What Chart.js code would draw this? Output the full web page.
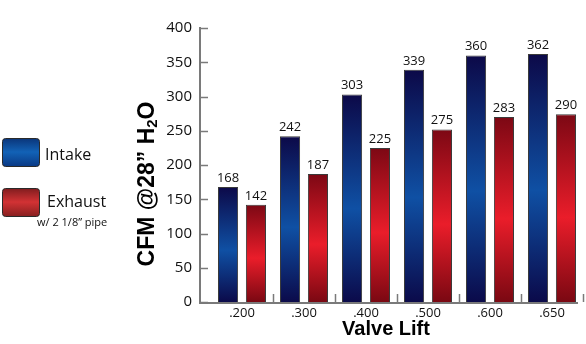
<!DOCTYPE html>
<html>
<head>
<meta charset="utf-8">
<script src="https://cdn.jsdelivr.net/npm/chart.js@4/dist/chart.umd.min.js"></script>
<style>
  html, body { margin: 0; padding: 0; background: #fff; }
  #wrap { width: 586px; height: 344px; position: relative; }
</style>
</head>
<body>
<div id="wrap"><canvas id="chart" width="586" height="344"></canvas></div>
<script>
// values
const lifts = ['.200', '.300', '.400', '.500', '.600', '.650'];
const intake = [168, 242, 303, 339, 360, 362];
// exhaust bars as drawn, and the numbers printed above them
const exhaust = [142, 187, 225, 252, 270, 274];
const exhaustLabels = [142, 187, 225, 275, 283, 290];
const yTicks = [0, 50, 100, 150, 200, 250, 300, 350, 400];

const blueStops = ['#0c0948', '#0f50a4', '#0b0a4a'];
const redStops = ['#7c0814', '#ea1d2a', '#7a0812'];

function barGradient(ctx, stops) {
  const chart = ctx.chart;
  if (!chart.chartArea || ctx.type !== 'data') return stops[1];
  const y = chart.scales.y;
  const top = y.getPixelForValue(ctx.raw);
  const bottom = y.getPixelForValue(0);
  const g = chart.ctx.createLinearGradient(0, top, 0, bottom);
  g.addColorStop(0, stops[0]);
  g.addColorStop(0.55, stops[1]);
  g.addColorStop(1, stops[2]);
  return g;
}

// axes lines, inside ticks, value labels, titles, legend
const decor = {
  id: 'decor',
  afterDatasetsDraw(chart) {
    const c = chart.ctx;
    const xs = chart.scales.x, ys = chart.scales.y;
    const base = ys.getPixelForValue(0);
    const axisX = chart.chartArea.left - 11;
    c.save();
    c.strokeStyle = '#7a7a7a';
    c.lineWidth = 2;
    c.beginPath();
    c.moveTo(axisX, ys.getPixelForValue(400) - 1);
    c.lineTo(axisX, base + 1);
    c.lineTo(chart.chartArea.right - 5, base + 1);
    c.stroke();
    // y ticks inside
    c.lineWidth = 1.5;
    yTicks.forEach(v => {
      const py = Math.round(ys.getPixelForValue(v)) + 0.5;
      c.beginPath();
      c.moveTo(axisX, py);
      c.lineTo(axisX + 8, py);
      c.stroke();
    });
    // x group separators
    for (let i = 0; i < lifts.length; i++) {
      const px = Math.round((xs.getPixelForValue(i) + xs.getPixelForValue(i + 1)) / 2) + 0.5;
      c.beginPath();
      c.moveTo(px, base);
      c.lineTo(px, base - 8);
      c.stroke();
    }
    // value labels
    c.fillStyle = '#111';
    c.font = '13px "Open Sans"';
    c.textAlign = 'center';
    c.textBaseline = 'alphabetic';
    const labelSets = [intake, exhaustLabels];
    chart.data.datasets.forEach((ds, di) => {
      chart.getDatasetMeta(di).data.forEach((bar, i) => {
        c.fillText(String(labelSets[di][i]), bar.x, bar.y - 5);
      });
    });
    // x title
    c.font = 'bold 20px "Liberation Sans"';
    c.fillStyle = '#000';
    c.textBaseline = 'middle';
    c.fillText('Valve Lift', 386, 329);
    // y title with subscript
    c.save();
    c.translate(148, 184);
    c.rotate(-Math.PI / 2);
    const big = 'bold 23px "Liberation Sans"', small = 'bold 15px "Liberation Sans"';
    const parts = [['CFM @28\u201D H', big, 0], ['2', small, 5], ['O', big, 0]];
    let total = 0;
    parts.forEach(p => { c.font = p[1]; total += c.measureText(p[0]).width; });
    let px = -total / 2;
    c.textAlign = 'left';
    parts.forEach(p => {
      c.font = p[1];
      c.fillText(p[0], px, p[2]);
      px += c.measureText(p[0]).width;
    });
    c.restore();
    // legend
    const swatch = (y, stops) => {
      const g = c.createLinearGradient(0, y, 0, y + 28);
      g.addColorStop(0, stops[0]);
      g.addColorStop(0.5, stops[1]);
      g.addColorStop(1, stops[2]);
      c.fillStyle = g;
      c.strokeStyle = '#2a2a2a';
      c.lineWidth = 1;
      c.beginPath();
      c.roundRect(2.5, y + 0.5, 37, 28, 3);
      c.fill();
      c.stroke();
    };
    swatch(138, ['#0a3478', '#1262b6', '#0a3a86']);
    swatch(188, ['#7e1c1e', '#d23234', '#8a2020']);
    c.fillStyle = '#111';
    c.textAlign = 'left';
    c.textBaseline = 'middle';
    c.font = '16px "Open Sans"';
    c.fillText('Intake', 45, 155);
    c.fillText('Exhaust', 47, 202);
    c.font = '11px "Open Sans"';
    c.fillText('w/ 2 1/8\u201D pipe', 37, 223);
    c.restore();
  }
};

new Chart(document.getElementById('chart'), {
  type: 'bar',
  data: {
    labels: lifts,
    datasets: [
      { label: 'Intake', data: intake, backgroundColor: ctx => barGradient(ctx, blueStops) },
      { label: 'Exhaust', data: exhaust, backgroundColor: ctx => barGradient(ctx, redStops) }
    ]
  },
  options: {
    responsive: false,
    animation: false,
    devicePixelRatio: 1,
    layout: { padding: { top: 26, right: 3, left: 0, bottom: 0 } },
    datasets: {
      bar: {
        categoryPercentage: 0.9,
        barPercentage: 0.72,
        borderColor: '#3a3a3a',
        borderWidth: 1,
        borderSkipped: 'bottom'
      }
    },
    plugins: {
      legend: { display: false },
      tooltip: { enabled: false }
    },
    scales: {
      x: {
        afterFit(scale) { scale.height = 42; },
        grid: { display: false, drawTicks: false },
        border: { display: false },
        ticks: { color: '#111', font: { family: 'Open Sans', size: 13 }, padding: 3 }
      },
      y: {
        min: 0,
        max: 400,
        afterFit(scale) { scale.width = 211; },
        afterBuildTicks(scale) { scale.ticks = yTicks.map(v => ({ value: v })); },
        grid: { display: false, drawTicks: false },
        border: { display: false },
        ticks: { color: '#111', font: { family: 'Open Sans', size: 15 }, padding: 19 }
      }
    }
  },
  plugins: [decor]
});
</script>
</body>
</html>
